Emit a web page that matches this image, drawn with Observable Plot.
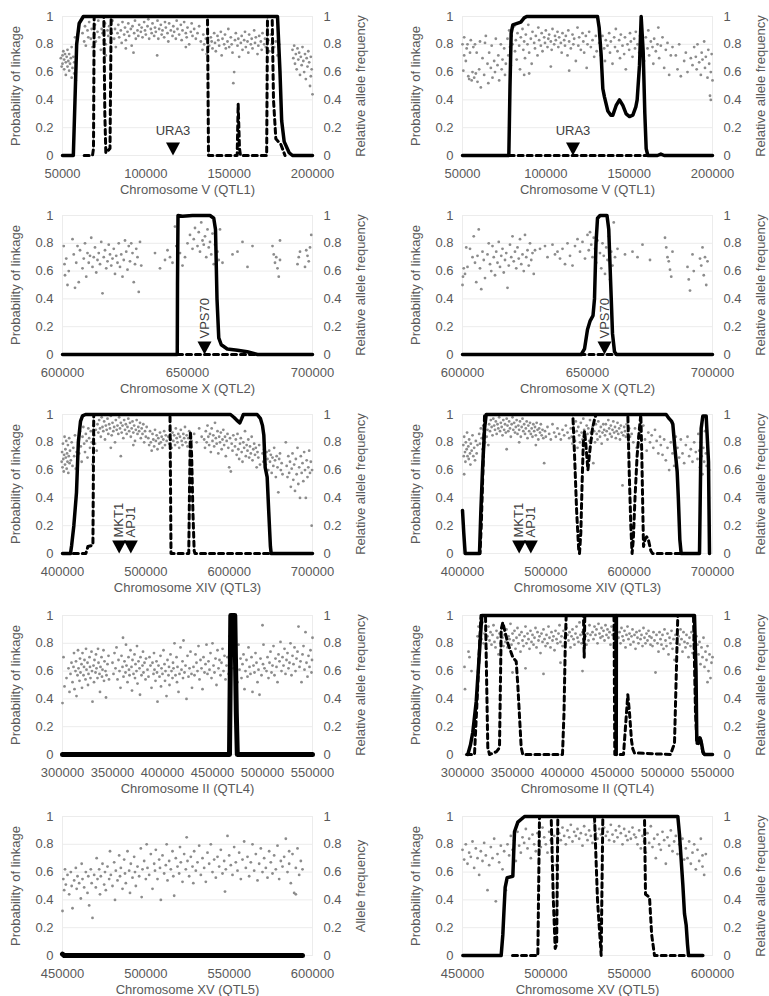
<!DOCTYPE html>
<html><head><meta charset="utf-8">
<script src="https://cdn.jsdelivr.net/npm/d3@7"></script>
<script src="https://cdn.jsdelivr.net/npm/@observablehq/plot@0.6"></script>
<style>
body{margin:0;background:#fff;}
#wrap{position:relative;width:769px;height:996px;overflow:hidden;background:#fff;}
</style></head>
<body><div id="wrap"></div>
<script>
// positions in kb, scatter values in percent (flattened x,y pairs)
const yTicks = [0,0.2,0.4,0.6,0.8,1];
const xt1 = [50000,100000,150000,200000];
const xt2 = [600000,650000,700000];
const xt3 = [400000,500000,600000,700000];
const xt4 = [300000,350000,400000,450000,500000,550000];
const xt5 = [450000,500000,550000,600000];

const s1 = [49,70,49.5,64,50,72,50,66,50.5,75,51,62,51,69,51.5,73,52,58,52,67,52.5,71,53,64,53,76,53.5,68,54,61,54,73,54.5,66,55,70,55.5,56,55.5,78,56,63,56.5,71,57,67,57,59,57.5,85,58,54,59,87,
62,88,63,82,63.5,93,64,79,65,90,65.5,85,66,96,67,84,67.5,91,68,78,69,87,69.5,94,70,82,71,89,71.5,97,72,85,73,76,73.5,91,74,88,75,83,75.5,95,76,80,77,90,77.5,86,78,93,79,81,79.5,88,80,97,81,84,81.5,91,82,78,83,88,83.5,94,84,85,85,90,85.5,81,86,96,87,87,87.5,92,88,83,89,89,89.5,95,90,86,91,91,91.5,79,92,93,93,88,93.5,97,94,84,95,90,95.5,86,96,94,97,89,97.5,92,98,85,99,96,99.5,90,100,87,101,93,101.5,98,102,84,103,91,103.5,88,104,95,105,86,105.5,92,106,89,107,97,107.5,84,108,91,109,94,109.5,87,110,90,111,85,111.5,96,112,92,113,88,113.5,82,114,95,115,90,116,86,116.5,93,117,89,118,84,118.5,97,119,91,120,87,121,94,121.5,83,122,90,123,96,124,88,124.5,85,125,92,126,80,127,89,127.5,95,128,86,129,91,130,84,131,88,132,93,76,72,92.6,74,106.8,72,124,78,88,77,
133,82,134,76,134.5,87,135,80,136,84,136.5,73,137,90,138,79,139,85,139.5,82,140,77,141,88,141.5,81,142,75,143,86,143.5,83,144,79,145,89,145.5,72,146,84,147,80,147.5,87,148,77,149,82,149.5,91,150,78,151,85,151.5,80,152,74,152.5,52,153,60,153.5,83,154,88,155,79,155.5,84,156,71,157,81,157.5,86,158,76,159,83,159.5,89,160,78,161,82,161.5,74,162,87,163,80,163.5,84,164,77,165,90,165.5,81,166,85,167,73,167.5,79,168,86,169,82,169.5,76,170,88,171,80,171.5,84,172,78,173,91,173.5,83,174,75,175,87,175.5,80,176,84,177,78,178,82,179,72,180,80,
188,76,188.5,70,189,79,189.5,66,190,73,190.5,62,191,77,191.5,69,192,74,192.5,58,193,71,193.5,65,194,78,194.5,68,195,60,195.5,73,196,55,196.5,70,197,64,197.5,75,198,67,198.5,50,199,71,199.5,62,200,44,199,57];

const s2 = [50,80,50.5,61,51,72,51,85,52,68,52.5,77,53,80,53.5,57,54,55,54.5,74,55,83,55.5,54,56,60,56.5,78,57,56,57.5,80,58,59,58.5,74,59,53,60,62,60.5,82,61,49,62,70,63,58,63.5,81,64,86,65,66,65.5,52,66,74,67,63,67.5,79,68,56,69,68,69.5,60,70,84,71,65,71.5,72,72,54,73,80,73.5,62,74,69,75,77,75.5,58,76,66,
77,84,77.5,72,78,90,78.5,78,79,65,79.5,86,80,80,81,93,81.5,75,82,83,82.5,69,83,88,84,79,84.5,62,85,85,86,91,86.5,76,87,82,87.5,70,88,87,89,80,89.5,94,90,74,91,84,91.5,66,92,89,93,81,93.5,77,94,86,95,72,95.5,92,96,83,97,79,97.5,88,98,75,99,85,99.5,81,100,90,101,78,101.5,84,102,87,103,82,103.5,76,104,91,105,80,105.5,86,106,83,107,89,107.5,78,108,85,109,81,109.5,74,110,88,111,83,111.5,79,112,86,113,72,113.5,90,114,82,115,77,116,87,116.5,80,117,84,118,68,119,92,119.5,79,120,85,121,76,122,88,122.5,82,123,74,124,86,124.5,63,125,80,126,89,127,78,128,83,129,71,130,86,130.5,75,90,59,103,64,114,61,87,58,
132,81,133,72,134,86,135,77,135.5,68,136,83,137,79,138,88,138.5,74,139,82,140,66,141,85,141.5,78,142,91,143,75,144,83,144.5,70,145,87,146,79,147,73,147.5,85,148,62,149,80,150,76,150.5,88,151,82,152,71,153,84,153.5,77,154,89,155,80,156,74,156.5,86,157,79,158,83,159,68,160,85,161,77,161.5,90,162,72,163,82,164,78,164.5,66,165,84,166,75,167,80,167.5,92,168,70,169,79,170,85,171,63,172,76,173,81,174,58,175,72,176,78,
178,72,179,62,180,80,181,57,183,68,184,74,185,60,187,70,188,65,189,78,190,71,190.5,62,191,80,192,67,193,58,193.5,74,194,69,195,82,195.5,63,196,71,197,56,197.5,76,198,66,198.5,43,199,60,199.5,73,200,54,199,40];

const s3 = [600.5,78,600.8,65,601,57,601.5,69,602,50,602.5,60,604,83,604.5,72,605,48,605.5,66,606,78,606.5,52,607,75,608,62,608.5,69,609,80,609.5,56,610,73,610.5,66,611,71,611.5,84,612,63,612.5,70,613,77,613.5,59,614,68,614.5,73,615,65,615.5,81,616,44,616.5,70,617,75,617.5,62,618,67,618.5,79,619,72,619.5,64,620,69,620.5,76,621,58,621.5,71,622,66,622.5,80,623,63,623.5,72,624,56,624.5,68,625,82,625.5,74,626,61,626.5,78,627,67,627.5,80,628,73,628.5,52,629,65,629.5,76,630,70,630.5,45,631,81,631.5,64,
637,73,639,62,641,68,642,75,643,70,644,66,645,92,645.5,78,646,69,647,73,648,64,649,70,650,80,651,86,652,76,652.5,83,653,91,654,78,654.5,88,655,74,655.5,95,656,82,656.5,79,657,85,657.5,70,658,90,658.5,77,659,81,659.5,72,660,87,660.5,65,661,79,661.5,63,662,74,662.5,68,663,90,664,66,668,72,670,74,672,81,674,63,676,78,684,78,684.5,72,685,66,685.5,70,686,62,686.5,56,687,68,687,82,694,65,694.5,70,695,74,697,63,697.5,75,698,71,699,77,699.5,86,698.5,67];

const s4 = [600,50,600.2,56,600.5,62,601,58,601.5,77,602,63,603,76,604,70,604.5,85,605,66,605.5,52,606,71,606.5,90,607,62,607.5,47,608,74,608.5,68,609,55,610,72,610.5,80,611,65,611.5,60,612,78,612.5,70,613,57,613.5,74,614,66,614.5,81,615,63,615.5,71,616,76,616.5,59,617,68,617.5,73,618,48,618.5,64,619,79,619.5,70,620,85,620.5,67,621,74,621.5,62,622,77,622.5,69,623,83,623.5,65,624,72,624.5,60,625,86,625.5,70,626,75,626.5,64,627,80,627.5,68,628,73,628.5,58,629,75,
631,76,633,78,634,70,636,79,637,72,638,74,639,69,640,76,641,65,642,80,643,71,644,64,645,78,646,83,647,74,648,81,649,69,650,86,650.5,75,651,88,651.5,79,652,70,652.5,84,653,76,653.5,66,654,82,655,73,655.5,62,656,80,656.5,71,657,58,657.5,77,658,68,658.5,85,659,54,659.5,74,660,64,660.5,95,661,70,662,76,665,72,668,74,670,70,672,79,675,68,681,84,681.5,77,682,70,682.5,67,683,61,683.5,56,684,74,690,63,690.5,54,691,46,692,72,692.5,60,695,69,695.5,64,696,77,696.5,57,697,70,697.5,50,698,67];

const s5 = [399,66,399.5,73,400,62,400.5,79,401,68,401.5,59,402,71,402.5,84,403,64,403.5,75,404,69,404.5,81,405,61,405.5,72,406,66,406.5,78,407,58,407.5,70,408,83,408.5,65,409,74,410,67,411,80,412,63,413,76,414,70,415,85,416,61,417,73,
419,82,420,72,421,88,422,77,423,66,424,84,425,91,426,79,427,73,428,86,429,81,430,69,431,90,432,83,433,76,434,88,435,80,436,64,437,92,438,85,439,79,440,89,441,74,
442,93,443,87,444,96,445,90,446,84,447,98,448,91,449,88,450,95,451,82,452,92,453,89,454,97,455,86,456,93,457,90,458,99,459,85,460,94,461,88,462,91,463,80,464,96,465,89,466,92,467,86,468,98,469,90,470,94,471,87,472,92,473,83,474,96,475,89,476,93,477,86,478,91,479,97,480,88,481,94,482,84,483,90,484,95,485,87,486,92,487,81,488,89,489,96,490,86,491,91,492,88,493,94,494,83,495,90,496,86,497,93,498,80,499,88,500,84,501,91,470,70,458,76,485,78,
503,83,504,78,505,88,506,80,507,74,508,86,509,82,510,77,511,89,512,81,513,85,514,75,515,83,516,79,517,87,518,80,519,84,520,76,521,82,522,88,523,78,524,85,525,81,
527,84,528,79,529,89,530,82,531,76,532,87,533,81,534,85,535,78,536,90,537,83,538,80,539,86,540,76,541,84,542,89,543,81,544,78,545,86,546,83,547,91,548,80,549,85,550,77,551,83,552,88,553,79,554,84,555,81,558,86,561,80,564,90,567,84,
570,82,571,76,572,88,573,80,574,92,575,84,576,78,577,86,578,73,579,90,580,81,581,85,582,77,583,94,584,83,585,79,586,88,587,72,588,84,589,80,590,87,591,75,592,82,593,89,594,78,595,84,596,70,597,81,598,86,599,76,600,62,601,83,602,59,603,79,604,74,605,85,
607,77,608,82,609,71,610,86,611,75,612,68,613,79,614,83,615,73,616,66,617,80,618,76,619,88,620,70,621,78,622,74,623,82,624,69,625,77,626,72,627,84,628,67,629,75,630,79,631,71,632,76,633,62,634,73,635,69,636,78,637,64,
640,72,641,66,642,75,643,70,644,64,645,73,646,68,647,60,648,74,649,66,650,71,651,58,652,69,653,63,654,76,655,67,656,55,657,70,658,62,659,44,660,68,661,72,662,60,663,65,664,57,
668,80,669,63,670,55,671,70,672,58,673,66,674,48,675,61,676,72,677,53,678,64,679,45,680,68,681,57,682,76,683,50,684,62,685,40,686,70,687,58,688,65,689,52,690,73,691,60,692,40,693,67,694,55,695,62,696,74,697,58,698,66,699,20,699.5,60];

const s6 = [401,78,401.5,70,402,84,403,73,403.5,66,404,80,405,75,405.5,87,406,70,407,77,407.5,68,408,82,409,72,409.5,64,410,79,411,74,412,85,413,70,414,76,415,67,416,81,417,72,418,78,402,57,
420,86,421,79,422,90,423,83,424,75,425,92,426,87,427,80,428,94,429,84,430,89,431,78,
432,93,433,88,434,96,435,91,436,85,437,97,438,92,439,89,440,95,441,86,442,93,443,90,444,98,445,88,446,94,447,91,448,85,449,96,450,89,451,93,452,87,453,97,454,92,455,88,456,95,457,90,458,84,459,93,460,98,461,89,462,94,463,87,464,91,465,96,466,86,467,92,468,89,469,95,470,84,471,91,472,97,473,88,474,93,475,86,476,90,477,95,478,83,479,92,480,88,481,94,482,86,483,90,484,84,485,93,486,88,487,91,488,85,489,94,490,89,491,82,492,90,493,87,494,93,495,85,496,89,497,83,453,75,488,78,498,65,468,80,
499,88,500,84,502,91,504,86,506,82,508,93,510,87,512,84,514,90,516,86,518,82,520,89,522,85,524,92,526,87,528,83,
530,90,531,84,532,79,533,93,534,87,535,81,536,95,537,88,538,76,539,91,540,85,541,80,542,94,543,87,544,82,545,97,546,89,547,84,548,78,549,92,550,86,551,90,552,81,553,96,554,87,555,83,556,91,557,65,558,88,559,80,560,93,561,86,562,82,563,95,564,88,565,84,566,91,567,79,568,87,569,93,
570,89,571,85,572,93,573,88,574,82,575,96,576,90,577,86,578,92,579,84,580,89,581,95,582,87,583,91,584,83,585,88,586,94,587,86,588,90,589,82,590,92,591,87,592,49,593,85,594,91,595,88,596,84,597,93,598,86,599,80,600,90,601,84,
603,86,605,80,607,90,609,76,611,84,613,88,615,78,617,92,619,82,621,74,623,87,625,80,627,85,629,76,631,89,633,81,635,72,637,84,
638,78,640,71,642,82,644,67,646,76,648,60,650,80,652,72,654,63,656,84,
658,76,660,69,662,82,664,72,666,65,668,78,670,84,672,70,674,75,676,66,678,80,680,73,682,68,
683,86,684,74,685,62,686,80,687,70,688,57,689,76,690,66,691,88,692,72,693,63,694,78,695,69,696,60];

const s7 = [300,37,301,70,302,49,304,55,306,62,307,45,308,58,309,66,
310,52,311,63,311.5,73,312,47,313,60,313.5,67,314,42,315,57,315.5,75,316,62,317,53,317.5,69,318,59,319,65,319.5,48,320,73,321,57,321.5,63,322,68,323,54,323.5,76,324,61,325,66,325.5,50,326,58,327,70,327.5,63,328,55,329,74,329.5,60,330,38,331,64,331.5,52,332,68,333,59,333.5,72,334,62,335,55,335.5,76,336,66,337,58,337.5,45,338,63,339,70,339.5,56,340,61,341,75,341.5,53,342,67,343,60,343.5,41,344,57,345,65,346,71,346.5,54,
350,66,351,58,352,73,353,62,354,77,355,54,356,68,357,60,358,48,359,71,360,63,360.5,84,361,56,362,67,363,59,363.5,79,364,64,365,52,366,70,366.5,61,367,57,368,75,369,63,369.5,46,370,68,371,58,372,72,372.5,55,373,65,374,60,374.5,78,375,51,376,67,377,62,377.5,43,378,70,379,57,380,64,380.5,74,381,59,382,66,383,54,383.5,69,
385,61,386,56,387,70,388,64,389,48,390,66,391,58,391.5,73,392,61,393,53,394,67,394.5,59,395,38,396,64,397,56,398,71,398.5,49,399,62,400,58,401,75,402,65,402.5,53,403,60,404,42,405,68,406,57,406.5,63,407,50,408,72,409,60,410,55,410.5,66,411,62,412,80,413,57,414,70,414.5,52,415,63,416,45,417,58,418,77,419,61,420,67,420.5,55,421,82,422,59,423,64,424,40,425,71,426,56,427,62,428,74,429,58,429.5,48,
431,63,432,57,433,72,434,66,435,60,436,78,437,54,438,68,439,62,440,47,441,70,442,59,443,65,444,79,445,58,446,67,447,61,448,73,449,55,450,80,451,64,452,59,453,69,454,50,455,75,456,62,457,68,458,57,459,66,460,76,461,60,462,71,463,54,464,64,465,70,466,58,467,85,468,66,
471,62,472,74,473,57,474,67,475,52,476,79,477,61,478,69,479,55,480,65,481,72,482,47,483,60,484,68,485,56,486,77,487,63,488,58,489,70,490,45,491,64,492,59,493,73,494,66,495,52,496,61,497,43,498,69,499,57,500,93,500.5,65,501,79,502,62,
504,60,505,70,506,55,507,66,508,74,509,59,510,64,511,78,512,57,513,69,514,63,515,52,516,72,517,67,518,81,519,60,520,70,521,64,522,76,523,58,524,68,525,73,526,62,527,66,528,80,529,57,530,71,531,65,532,77,533,60,534,69,535,74,536,92,537,63,538,67,539,52,540,72,541,78,542,61,543,88,544,66,545,56,546,71,547,63,548,75,549,59,550,84,549.5,68];

const s8 = [302,63,302.5,47,306,74,307,70,309,60,
315,85,316,92,317,78,318,88,319,83,320,95,321,80,322,87,323,90,324,76,325,85,326,92,327,82,328,88,329,79,330,86,331,93,332,81,333,77,334,89,335,84,336,72,337,87,338,80,339,91,340,84,341,78,
342,86,343,81,344,90,345,77,346,85,347,83,348,94,349,79,350,87,351,82,352,89,353,76,354,84,355,91,356,80,357,86,358,74,359,88,360,82,361,78,362,85,363,92,364,80,365,87,366,83,367,76,368,89,369,81,370,86,371,79,372,84,373,91,374,77,375,88,376,82,377,85,378,73,379,87,380,81,381,90,382,83,383,78,384,86,385,80,386,92,387,84,388,77,389,88,390,82,391,85,392,75,393,89,394,83,395,80,396,87,397,93,398,81,399,85,400,78,401,89,402,84,403,80,404,91,405,86,406,82,407,88,408,77,409,85,410,90,411,83,412,79,413,87,414,92,415,84,416,81,417,95,418,86,419,80,420,88,421,83,422,91,423,85,424,79,425,87,426,82,427,93,428,86,350,59,363,62,381,58,420,60,398,66,
430,88,431,83,432,92,433,86,434,90,435,80,436,94,437,87,438,84,439,91,440,85,441,89,442,82,443,93,444,86,445,90,446,84,447,88,448,79,449,92,450,86,451,89,452,83,453,87,454,91,
456,84,457,88,458,80,459,91,460,85,461,82,462,89,463,77,464,86,465,92,466,83,467,87,468,79,469,85,470,90,471,81,472,86,473,76,474,88,475,84,476,80,477,89,478,83,479,86,480,78,481,91,482,84,483,80,484,87,485,82,486,89,487,85,488,79,
489,84,490,78,491,88,492,82,493,59,494,86,495,80,496,74,497,88,498,83,499,79,500,86,501,76,502,90,503,82,504,78,505,87,506,72,507,84,508,80,509,89,510,76,511,83,512,68,513,86,514,80,
516,85,517,79,518,90,519,83,520,74,521,88,522,81,523,77,524,86,525,80,526,70,527,84,528,78,529,88,530,73,531,82,532,76,533,68,534,85,535,79,536,72,537,81,538,65,539,77,540,70,541,84,542,63,543,74,544,68,545,78,546,60,547,72,548,55,549,66,550,70,545,52];

const s9 = [450,32,450.5,55,451,47,451.5,62,452,51,453,58,454,44,455,60,455.5,50,456,34,457,54,458,63,458.5,48,459,57,460,52,461,41,461.5,66,462,55,463,49,464,60,465,45,465.5,57,466,36,467,62,467.5,52,468,27,469,58,470,49,470.5,70,471,55,472,62,472.5,44,473,57,474,66,475,51,475.5,60,476,47,477,64,478,55,478.5,75,479,58,480,50,481,67,481.5,40,482,61,483,54,484,72,484.5,57,485,63,486,48,487,69,487.5,59,488,52,489,75,490,61,490.5,45,491,66,492,56,493,71,493.5,60,494,50,495,64,496,57,497,77,497.5,42,498,62,499,68,500,55,500.5,80,501,63,502,58,503,73,504,48,505,66,505.5,61,506,76,507,55,508,69,508.5,63,509,40,510,72,511,59,512,65,512.5,80,513,54,514,68,515,62,516,75,516.5,57,517,43,518,70,519,64,520,59,520.5,78,521,67,522,53,523,73,524,62,524.5,85,525,68,526,57,527,71,528,64,528.5,52,529,75,530,61,531,67,532,79,533,58,534,70,535,63,536,53,537,74,538,66,539,80,540,60,541,69,542,56,543,71,544,64,545,76,546,59,547,68,547.5,46,548,62,549,86,550,72,551,65,552,58,553,78,554,67,555,61,556,74,557,55,558,69,559,82,560,63,561,71,562,57,563,67,564,80,565,61,566,73,567,54,568,66,569,77,570,60,571,70,572,63,573,56,574,75,575,67,576,59,577,72,578,62,579,79,580,55,581,68,582,64,583,71,584,84,585,60,586,66,587,52,588,73,589,45,590,63,591,77,592,58,593,68,594,62,590,44,586,75];

const s10 = [450,76,451,69,452,80,453,66,454,74,455,71,456,82,457,63,458,77,459,70,460,58,461,75,462,68,463,81,464,72,465,47,466,65,467,78,468,70,469,84,470,39,471,73,472,67,473,79,474,62,475,75,476,47,
477,80,478,72,479,86,480,76,481,83,482,68,483,89,484,79,485,74,486,85,487,81,488,91,489,77,490,84,491,70,492,87,493,80,494,75,495,88,496,82,497,78,498,92,499,85,500,80,501,74,502,89,503,83,504,78,505,86,506,65,507,81,
508,88,509,83,510,92,511,86,512,80,513,90,514,85,515,94,516,82,517,89,518,86,519,91,520,84,521,88,522,79,523,93,524,87,525,83,526,90,527,86,528,81,529,95,530,88,531,84,532,91,533,87,534,77,535,92,536,86,537,89,538,83,539,94,540,87,541,82,542,90,543,85,544,93,545,88,546,80,547,91,548,86,549,83,550,89,551,84,552,92,553,87,
554,85,555,80,556,90,557,77,558,86,559,82,560,74,561,88,562,81,563,93,564,78,565,84,566,70,567,87,568,80,569,76,570,89,571,83,572,66,573,85,574,79,575,90,576,75,577,82,578,86,579,73,580,80,581,78,582,84,583,69,
584,77,585,70,586,82,587,66,588,74,589,80,590,62,591,76,592,68,593,84,594,72,595,58,596,73,594,64];

// linkage probability curves: [kb, probability]
const solid1 = [[50,0],[56.5,0],[57.5,0.4],[58.5,0.8],[60,0.95],[62.5,1],[179,1],[180.5,0.6],[181.5,0.25],[183,0.1],[186,0.02],[188,0],[200,0]];
const dash1 = [[63,0],[68,0],[68.6,0.05],[69,1],[74.8,1],[75.4,0.3],[76,0.02],[78.5,0.05],[79.2,1],[137,1],[137.6,0],[154.8,0],[155.4,0.37],[156.2,0.05],[156.8,0],[172.5,0],[173,1],[175.8,1],[176.6,0.4],[178,0.12],[181,0.08],[183.5,0]];
const solid2 = [[50,0],[77.8,0],[78.5,0.5],[79.2,0.88],[80.2,0.94],[85,0.96],[87,0.99],[88.5,1],[131,1],[132,0.92],[133.2,0.72],[134.2,0.48],[135.2,0.42],[137.2,0.32],[139,0.29],[140.2,0.29],[142.2,0.36],[144.2,0.4],[146.2,0.36],[148.2,0.3],[150.2,0.28],[152.2,0.29],[154,0.35],[154.8,0.4],[156.2,0.65],[157.2,1],[158.4,0.75],[159.4,0.3],[160.2,0.05],[161.2,0],[167,0],[169,0.01],[171,0],[200,0]];
const dash2 = [[78,0],[161,0]];
const solid3 = [[600,0],[645.9,0],[646,0.5],[646.2,1],[648,0.995],[652,1],[659,1],[660.5,0.98],[661.2,0.9],[661.8,0.4],[662.5,0.12],[663.5,0.07],[665.9,0.04],[670,0.03],[673.9,0.02],[678,0],[700,0]];
const dash3 = [[646,0],[678,0]];
const solid4 = [[600,0],[647.5,0],[648.8,0.04],[650,0.18],[651,0.24],[652.2,0.28],[652.8,0.4],[653.4,0.8],[654,0.98],[655,1],[657.8,1],[658.5,0.9],[659.3,0.5],[660,0.15],[660.8,0.02],[661.6,0],[700,0]];
const dash4 = [[647,0],[662,0]];
const solid5 = [[400,0],[409.6,0],[411,0.06],[413.6,0.2],[416.8,0.44],[419,0.8],[421.6,0.95],[424,0.99],[427.6,1],[601.6,1],[605.6,0.98],[609,0.96],[612.8,0.94],[615,0.97],[617,1],[633.6,1],[637.6,0.97],[640,0.92],[641.6,0.85],[643.2,0.62],[645.6,0.55],[647.5,0.3],[649.5,0.05],[650.4,0],[700,0]];
const dash5 = [[413,0],[428,0],[430.5,0.05],[436.5,0.06],[437.5,1],[529,1],[529.6,0.5],[530.2,0],[551.5,0],[552.5,0.5],[553.5,0.88],[555,0.7],[556.5,0.3],[558,0.02],[559,0],[650,0]];
const solid6 = [[400,0.31],[401.5,0.15],[403.2,0],[420.4,0],[422,0.3],[424,0.6],[426.5,0.9],[428.4,1],[644.4,1],[648,0.97],[651,0.95],[652.4,0.93],[655,0.75],[657.6,0.59],[659,0.4],[660.8,0.1],[662.4,0],[684.4,0],[686.4,0.9],[688.4,0.99],[692.4,0.99],[695.2,0.66],[696.4,0]];
const dash6 = [[418,0],[421,0],[422.5,0.2],[424.5,0.6],[426.5,1],[532.4,1],[534.5,0.7],[537,0.3],[539.5,0.02],[540.4,0],[542,0.15],[543.5,0.5],[545,0.8],[546.5,0.88],[548.5,0.75],[550.5,0.6],[553,0.75],[556,0.9],[559,0.98],[560.4,1],[598.4,1],[600,0.6],[602,0.2],[603.5,0],[605,0.1],[607,0.4],[609.5,0.7],[612,0.88],[614,1],[615.2,0.7],[616.4,0.3],[617.2,0.05],[619,0.1],[621,0.12],[623,0.1],[626,0.02],[628,0],[662,0]];
const solid7 = [[300,0],[467,0],[468.3,1],[472.3,1],[473.8,0.3],[474.8,0],[550,0]];
const solid8 = [[305.3,0],[308,0.07],[310.3,0.16],[313.7,0.38],[317,0.74],[319.3,1],[453.5,1],[453.7,0],[453.9,1],[532,1],[533.5,0.6],[534.3,0.1],[536,0.08],[537.5,0.12],[539,0.08],[540.5,0.02],[542,0],[550,0]];
const dash8 = [[304,0],[312,0],[314,0.3],[316.5,0.7],[318.5,1],[323,1],[325.3,0.05],[327,0],[334,0.02],[337,0.05],[338.7,0.9],[340.3,0.95],[345.3,0.8],[350.3,0.7],[353.7,0.67],[355.3,0.5],[358.7,0.05],[360.3,0],[400,0],[401.5,0.3],[402.8,0.8],[403.7,1],[421,1],[421.7,0.7],[422.3,1],[451.5,1],[452.3,0],[461,0],[463,0.2],[465.3,0.43],[467,0.3],[469,0.1],[470.3,0.04],[472,0.01],[476,0.01],[508,0],[510.5,0.05],[512,0.08],[513.5,0.5],[515.3,1],[531,1],[533,0.3],[534.5,0.08],[536.5,0.1],[538,0.12],[540,0.03],[541,0]];
const solid9 = [[450,0.01],[451,0],[594,0]];
const solid10 = [[450.2,0],[473.2,0],[474.2,0.15],[475,0.35],[475.6,0.49],[476.8,0.56],[480.2,0.57],[481.2,0.89],[483.2,0.96],[487.2,1],[579.2,1],[580.2,0.87],[582.2,0.51],[583.2,0.3],[584.2,0.22],[585,0.08],[585.6,0],[594.2,0]];
const dash10 = [[480,0],[495.2,0],[496.2,1],[503.2,1],[504.5,0.4],[505.6,0.05],[506.5,0.08],[507.2,1],[529.2,1],[531,0.4],[533.2,0],[534.2,1],[559.2,1],[559.8,0.44],[561,0.43],[562.2,0.42],[563.5,0.15],[565.2,0],[583.2,0]];

// gene markers: [name, kb]
const genesV = [["URA3",116.3]];
const genesX = [["VPS70",656.8]];
const genesXIV = [["MKT1",468],["APJ1",482]];

const xLabels = ["Chromosome V (QTL1)","Chromosome X (QTL2)","Chromosome XIV (QTL3)","Chromosome II (QTL4)","Chromosome XV (QTL5)"];
const yLeft = "Probability of linkage";
const yRight = "Relative allele frequency";
const yRightAlt = "Allele frequency";

const panels = [
  {col:0,row:0,dom:[50000,200000],xt:xt1,xl:xLabels[0],yr:yRight,sc:s1,so:solid1,da:dash1,mk:genesV,vert:false},
  {col:1,row:0,dom:[50000,200000],xt:xt1,xl:xLabels[0],yr:yRight,sc:s2,so:solid2,da:dash2,mk:genesV,vert:false},
  {col:0,row:1,dom:[600000,700000],xt:xt2,xl:xLabels[1],yr:yRight,sc:s3,so:solid3,da:dash3,mk:genesX,vert:true},
  {col:1,row:1,dom:[600000,700000],xt:xt2,xl:xLabels[1],yr:yRight,sc:s4,so:solid4,da:dash4,mk:genesX,vert:true},
  {col:0,row:2,dom:[400000,700000],xt:xt3,xl:xLabels[2],yr:yRight,sc:s5,so:solid5,da:dash5,mk:genesXIV,vert:true},
  {col:1,row:2,dom:[400000,700000],xt:xt3,xl:xLabels[2],yr:yRight,sc:s6,so:solid6,da:dash6,mk:genesXIV,vert:true},
  {col:0,row:3,dom:[300000,550000],xt:xt4,xl:xLabels[3],yr:yRight,sc:s7,so:solid7,da:null,mk:null,sw:5},
  {col:1,row:3,dom:[300000,550000],xt:xt4,xl:xLabels[3],yr:yRight,sc:s8,so:solid8,da:dash8,mk:null},
  {col:0,row:4,dom:[450000,600000],xt:xt5,xl:xLabels[4],yr:yRightAlt,sc:s9,so:solid9,da:null,mk:null,sw:5},
  {col:1,row:4,dom:[450000,600000],xt:xt5,xl:xLabels[4],yr:yRight,sc:s10,so:solid10,da:dash10,mk:null}
];

const toPts = a => { const o = []; for (let i = 0; i < a.length; i += 2) o.push({x: a[i]*1000, y: a[i+1]/100}); return o; };
const toLine = a => a.map(([x, y]) => ({x: x*1000, y}));
const triDown = {draw(ctx, size) { const k = Math.sqrt(size/Math.PI)/5; ctx.moveTo(0,0); ctx.lineTo(-7*k,-13*k); ctx.lineTo(7*k,-13*k); ctx.closePath(); }};
const fmt = d => String(d);

const wrap = document.getElementById("wrap");
const tops = [0,199,398,599,800];
for (const p of panels) {
  const W = 385, H = 210, mt = 16, ph = 139, pw = 250;
  const ml = p.col ? 78 : 62;
  const marks = [
    Plot.frame({stroke:"#ececec"}),
    Plot.gridY({ticks:yTicks, stroke:"#ececec", strokeOpacity:1}),
    Plot.axisY({ticks:yTicks, anchor:"left", tickSize:0, tickPadding:9, tickFormat:fmt, label:null}),
    Plot.axisY({ticks:yTicks, anchor:"right", tickSize:0, tickPadding:11, tickFormat:fmt, label:null}),
    Plot.axisX({ticks:p.xt, anchor:"bottom", tickSize:0, tickPadding:13, tickFormat:fmt, label:null}),
    Plot.text([yLeft], {text:d=>d, frameAnchor:"left", textAnchor:"middle", lineAnchor:"middle", dx:-47, rotate:-90}),
    Plot.text([p.yr], {text:d=>d, frameAnchor:"right", textAnchor:"middle", lineAnchor:"middle", dx:48, rotate:-90}),
    Plot.text([p.xl], {text:d=>d, frameAnchor:"bottom", textAnchor:"middle", lineAnchor:"middle", dy:34}),
    Plot.dot(toPts(p.sc), {x:"x", y:"y", r:1.4, fill:"#8c8c8c", stroke:null})
  ];
  let mk = null;
  if (p.mk) {
    mk = p.mk.map(([g, kb]) => ({g, x: kb*1000, y: 0}));
    marks.push(p.vert
      ? Plot.text(mk, {x:"x", y:"y", text:"g", rotate:-90, textAnchor:"start", lineAnchor:"middle", dy:-16, fill:"#404040"})
      : Plot.text(mk, {x:"x", y:"y", text:"g", lineAnchor:"middle", dy:-25, fill:"#404040"}));
  }
  if (p.da) marks.push(Plot.line(toLine(p.da), {x:"x", y:"y", stroke:"#000", strokeWidth:3, strokeDasharray:"5,4"}));
  marks.push(Plot.line(toLine(p.so), {x:"x", y:"y", stroke:"#000", strokeWidth:p.sw || 3.5, strokeLinejoin:"round"}));
  if (mk) marks.push(Plot.dot(mk, {x:"x", y:"y", symbol:triDown, r:5, fill:"#000", stroke:null}));
  const chart = Plot.plot({
    width: W, height: H,
    marginLeft: ml, marginRight: W - ml - pw, marginTop: mt, marginBottom: H - mt - ph,
    style: {background:"transparent", overflow:"visible", fontFamily:"'Liberation Sans', Arial, sans-serif", fontSize:"13px", color:"#595959"},
    x: {domain: p.dom},
    y: {domain: [0, 1]},
    marks
  });
  chart.style.position = "absolute";
  chart.style.left = (p.col ? 384 : 0) + "px";
  chart.style.top = tops[p.row] + "px";
  wrap.appendChild(chart);
}
</script>
</body></html>
